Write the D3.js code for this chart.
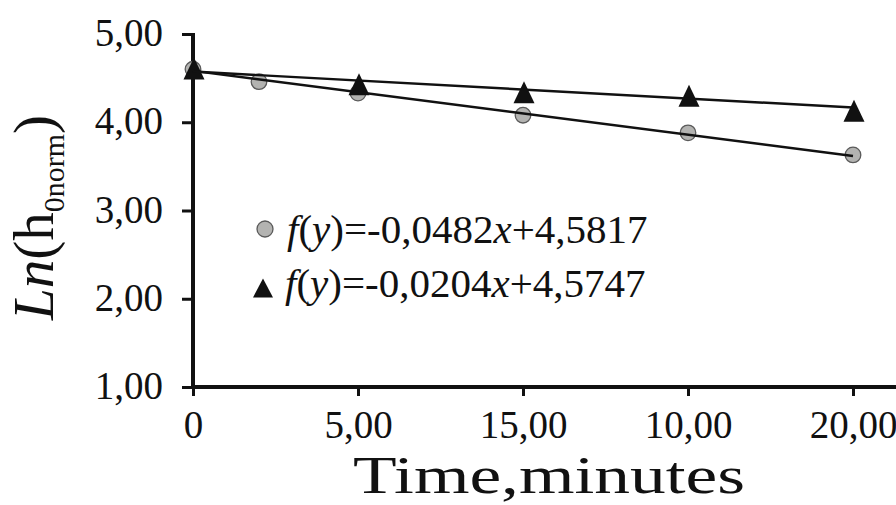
<!DOCTYPE html>
<html><head><meta charset="utf-8">
<script src="https://cdn.jsdelivr.net/npm/d3@7"></script>
</head>
<body style="margin:0;background:#fff">
<svg id="c" width="896" height="505" style="display:block"></svg>
<script>
// ---- data ----
const xTickValues = [0, 5, 10, 15, 20];
const xTickLabels = ["0", "5,00", "15,00", "10,00", "20,00"];
const yTickValues = [1, 2, 3, 4, 5];
const yTickLabels = ["1,00", "2,00", "3,00", "4,00", "5,00"];
const circleX = [0, 2, 5, 10, 15, 20];
const circleY = [4.60, 4.46, 4.33, 4.08, 3.88, 3.63];
const triangleX = [0, 5, 10, 15, 20];
const triangleY = [4.61, 4.43, 4.34, 4.30, 4.13];
const trendSlope = [-0.0482, -0.0204];
const trendIntercept = [4.5817, 4.5747];
const legendLabels = [
  [["f","i"],["(",""],["y","i"],[")=-0,0482",""],["x","i"],["+4,5817",""]],
  [["f","i"],["(",""],["y","i"],[")=-0,0204",""],["x","i"],["+4,5747",""]]
];

const FONT = "'Liberation Serif'";
const svg = d3.select("#c");
const x = d3.scaleLinear().domain([0, 20]).range([193, 853]);
const y = d3.scaleLinear().domain([1, 5]).range([387, 34]);
const xAxisEnd = 21.4;

// axes
const gx = svg.append("g").attr("transform", `translate(0,${y(1)})`)
  .call(d3.axisBottom(x).tickValues(xTickValues)
    .tickFormat((d, i) => xTickLabels[i]).tickSize(9).tickSizeOuter(0).tickPadding(14));
gx.select(".domain").remove();
gx.selectAll(".tick line").attr("stroke", "#111").attr("stroke-width", 3);
gx.selectAll(".tick text").attr("font-size", 39).style("font-family", FONT).attr("fill", "#111").attr("dy", "0.72em");

const gy = svg.append("g").attr("transform", `translate(${x(0)},0)`)
  .call(d3.axisLeft(y).tickValues(yTickValues)
    .tickFormat((d, i) => yTickLabels[i]).tickSize(11).tickSizeOuter(0).tickPadding(19));
gy.select(".domain").remove();
gy.selectAll(".tick line").attr("stroke", "#111").attr("stroke-width", 3);
gy.selectAll(".tick text").attr("font-size", 39).style("font-family", FONT).attr("fill", "#111").attr("dy", "0.3em");

svg.append("line").attr("x1", x(0)).attr("x2", x(0)).attr("y1", y(5) - 1).attr("y2", y(1) + 2)
  .attr("stroke", "#111").attr("stroke-width", 4);
svg.append("line").attr("x1", x(0) - 2).attr("x2", x(xAxisEnd)).attr("y1", y(1)).attr("y2", y(1))
  .attr("stroke", "#111").attr("stroke-width", 4);

// markers
svg.append("g").selectAll("circle").data(circleX).join("circle")
  .attr("cx", (d) => x(d)).attr("cy", (d, i) => y(circleY[i])).attr("r", 7.8)
  .attr("fill", "#b3b3b1").attr("stroke", "#5a5a5a").attr("stroke-width", 1.3);

function tri(cx, cy, w, h) {
  return `M${cx},${cy - h / 2}L${cx + w / 2},${cy + h / 2}L${cx - w / 2},${cy + h / 2}Z`;
}
svg.append("g").selectAll("path").data(triangleX).join("path")
  .attr("d", (d, i) => tri(x(d) + 1, y(triangleY[i]), 21, 22))
  .attr("fill", "#111");

// trend lines
trendSlope.forEach((m, k) => {
  svg.append("line")
    .attr("x1", x(0)).attr("y1", y(trendIntercept[k]))
    .attr("x2", x(20)).attr("y2", y(trendIntercept[k] + m * 20))
    .attr("stroke", "#111").attr("stroke-width", 2.4);
});

// legend
const leg = svg.append("g");
leg.append("circle").attr("cx", 265).attr("cy", 229).attr("r", 8)
  .attr("fill", "#b3b3b1").attr("stroke", "#5a5a5a").attr("stroke-width", 1.3);
leg.append("path").attr("d", tri(263, 288, 20, 19)).attr("fill", "#111");
legendLabels.forEach((parts, k) => {
  const t = leg.append("text").attr("x", 287 - k * 2).attr("y", 243 + k * 54)
    .attr("font-size", 41).attr("fill", "#111").style("font-family", FONT);
  parts.forEach(p => t.append("tspan").text(p[0]).attr("font-style", p[1] ? "italic" : "normal"));
});

// x title
svg.append("text").attr("x", 549).attr("y", 493).attr("text-anchor", "middle")
  .attr("font-size", 52).attr("fill", "#111").style("font-family", FONT)
  .attr("textLength", 392).attr("lengthAdjust", "spacingAndGlyphs")
  .text("Time,minutes");

// y title
const yt = svg.append("text").attr("transform", "translate(53,320) rotate(-90)")
  .attr("fill", "#111").style("font-family", FONT);
yt.append("tspan").text("Ln").attr("font-style", "italic").attr("font-size", 57);
yt.append("tspan").text("(h").attr("font-size", 57);
yt.append("tspan").text("0norm").attr("font-size", 30).attr("dy", 11);
yt.append("tspan").text(")").attr("font-size", 57).attr("dy", -11);
</script>
</body></html>
